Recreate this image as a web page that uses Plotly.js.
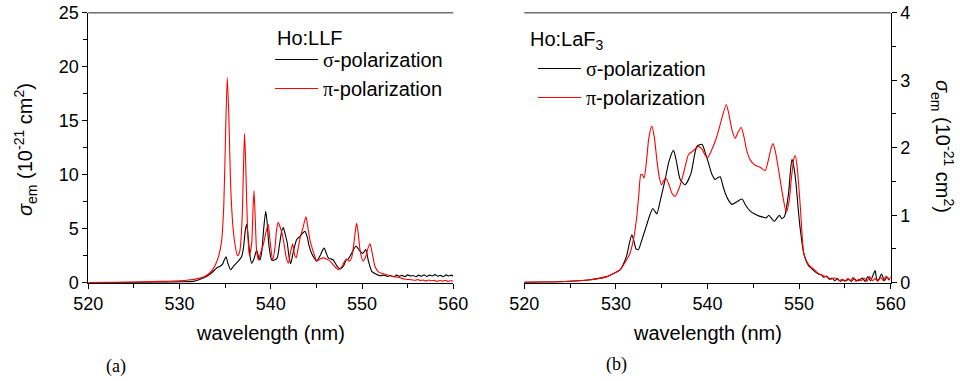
<!DOCTYPE html>
<html>
<head>
<meta charset="utf-8">
<script src="https://cdn.plot.ly/plotly-3.0.1.min.js"></script>
<style>html,body{margin:0;padding:0;background:#fff;}#chart{width:960px;height:381px;}</style>
</head>
<body>
<div id="chart"></div>
<script>
// ---- Ho:LLF, sigma-polarization (black) ----
const llfSigmaWl = [520,524,527,530,531.5,532.2,533,533.5,534.07,534.4,534.7,534.9,535.09,535.3,535.6,535.9,536.2,536.44,536.8,537,537.2,537.36,537.5,537.7,537.9,538.15,538.45,538.65,538.8,539,539.2,539.44,539.6,539.8,540.1,540.4,540.7,540.95,541.2,541.37,541.55,541.8,542,542.18,542.5,542.84,543.2,543.5,543.75,544,544.2,544.48,544.75,545.03,545.4,545.83,546.1,546.3,546.6,546.85,547.2,547.58,548,548.25,548.5,548.9,549.34,549.7,550.07,550.4,550.7,551.06,551.5,551.98,552.4,552.8,553.1,553.5,553.8,554.1,554.4,554.7,555,555.3,555.6,555.9,556.2,556.5,556.8,557.1,557.4,557.7,558,558.3,558.6,558.9,559.2,559.5,559.8,560];
const llfSigmaVal = [0.01,0.02,0.04,0.08,0.12,0.3,0.6,0.9,1.36,1.5,1.7,2.1,2.4,1.8,1.2,1.5,1.8,2.0,2.4,3.2,4.8,5.4,4.4,2.6,1.8,2.2,3.0,2.4,2.1,2.8,4.8,6.6,5.6,3.4,2.1,2.1,2.3,3.5,4.8,5.1,4.6,3.7,2.4,1.76,3.0,4.0,4.3,4.6,4.75,4.2,3.4,2.7,2.3,2.0,2.5,3.2,2.7,2.3,2.2,2.1,1.6,1.27,1.6,2.1,2.2,2.8,3.4,3.0,2.7,3.06,2.0,1.05,0.8,0.65,0.7,0.58,0.66,0.55,0.7,0.6,0.68,0.56,0.72,0.62,0.66,0.55,0.7,0.6,0.74,0.58,0.7,0.62,0.75,0.6,0.68,0.55,0.72,0.62,0.7,0.6];

// ---- Ho:LLF, pi-polarization (red) ----
const llfPiWl = [520,522,524,526,528,530,531,532,532.8,533.3,533.7,534,534.3,534.6,534.85,535.05,535.23,535.4,535.6,535.85,536.1,536.35,536.6,536.85,537,537.12,537.25,537.45,537.65,537.9,538.05,538.16,538.3,538.45,538.65,538.9,539.2,539.5,539.72,539.9,540.2,540.45,540.65,540.82,541,541.25,541.45,541.7,541.92,542.15,542.4,542.6,542.78,543,543.25,543.5,543.7,543.86,544.05,544.3,544.5,544.8,545.05,545.4,545.76,546.1,546.5,546.9,547.4,547.8,548.1,548.32,548.6,548.85,549.1,549.3,549.41,549.55,549.8,550.1,550.4,550.65,550.87,551.1,551.42,551.8,552.2,552.7,553.3,554.2,554.6,555,555.4,555.8,556.1,556.4,556.7,557,557.3,557.6,557.9,558.2,558.5,558.8,559.1,559.4,559.7,560];
const llfPiVal = [0.02,0.03,0.05,0.08,0.12,0.18,0.25,0.38,0.6,0.9,1.3,1.8,2.5,3.8,7.2,14,19.0,15.5,9,5.2,3.4,2.5,2.9,5.8,10.5,13.8,11,5,2.5,3.6,6.8,8.5,5.8,2.9,2.1,2.8,3.6,4.8,5.4,4.0,2.1,3.2,5.0,5.6,5.2,4.5,3.6,2.3,1.8,2.8,3.6,2.6,2.3,3.2,4.3,5.0,5.7,6.1,5.2,3.9,3.3,2.5,2.0,2.2,2.3,2.2,2.0,1.6,1.2,1.5,2.0,2.2,2.0,2.3,3.6,5.0,5.5,4.8,2.9,2.0,2.4,3.2,3.6,2.8,1.5,1.0,0.85,0.74,0.6,0.45,0.35,0.3,0.28,0.22,0.3,0.2,0.25,0.15,0.25,0.18,0.22,0.12,0.2,0.15,0.22,0.12,0.18,0.15];

// ---- Ho:LaF3, sigma-polarization (black) ----
const lafSigmaWl = [520,522,524,526,527,528,529,529.8,530.46,530.9,531.19,531.5,531.74,532,532.2,532.46,532.8,533.3,533.7,534.03,534.3,534.47,534.9,535.38,535.8,536.29,536.6,537.02,537.56,538.2,538.84,539.39,539.7,540.11,540.5,540.84,541.15,541.39,541.65,541.93,542.3,542.66,543.2,543.76,544.2,544.67,545.1,545.57,546.1,546.4,546.7,547,547.3,547.6,547.85,548.1,548.4,548.85,549.05,549.22,549.45,549.69,549.9,550.13,550.5,551,551.3,551.6,552.1,552.4,552.7,553,553.3,553.6,553.9,554.2,554.5,554.8,555.1,555.4,555.7,556,556.3,556.6,556.9,557.2,557.5,557.8,558.1,558.3,558.5,558.7,559,559.3,559.6,559.9];
const lafSigmaVal = [0.005,0.01,0.015,0.03,0.04,0.06,0.09,0.14,0.19,0.3,0.41,0.6,0.71,0.6,0.5,0.49,0.62,0.83,1.0,1.1,1.05,1.02,1.25,1.53,1.8,1.96,1.8,1.53,1.45,1.62,2.02,2.05,1.95,1.77,1.6,1.53,1.56,1.57,1.45,1.33,1.22,1.16,1.2,1.24,1.14,1.06,1.02,0.99,0.97,0.96,1.0,0.95,0.91,0.96,1.0,0.95,0.98,1.33,1.65,1.83,1.7,1.43,1.1,0.79,0.44,0.26,0.22,0.18,0.13,0.12,0.08,0.1,0.05,0.07,0.03,0.06,0.02,0.04,0.03,0.05,0.02,0.06,0.03,0.04,0.07,0.02,0.09,0.03,0.12,0.18,0.04,0.05,0.13,0.03,0.08,0.04];

// ---- Ho:LaF3, pi-polarization (red) ----
const lafPiWl = [520,522,524,526,527,528,529,529.8,530.46,531,531.55,532,532.28,532.5,532.72,532.9,533.08,533.3,533.6,533.92,534.2,534.47,534.75,535,535.25,535.45,535.8,536.1,536.47,536.9,537.38,537.7,537.93,538.4,539.02,539.4,539.7,540,540.5,541.03,541.5,542.04,542.3,542.7,543.03,543.3,543.68,544,544.3,544.67,545.2,545.76,546.3,546.7,547,547.15,547.4,547.76,548.2,548.6,548.9,549.2,549.45,549.59,549.8,550.13,550.5,550.8,551.22,551.6,552,552.3,552.7,553.1,553.5,553.8,554.14,554.4,554.7,555,555.3,555.6,555.9,556.2,556.5,556.8,557.1,557.4,557.7,558,558.3,558.6,558.9,559.2,559.5,559.8,560];
const lafPiVal = [0.005,0.01,0.015,0.03,0.04,0.06,0.09,0.14,0.19,0.3,0.44,0.7,0.98,1.3,1.6,1.6,1.55,1.75,2.15,2.32,2.15,1.82,1.55,1.45,1.52,1.55,1.45,1.33,1.28,1.4,1.62,1.8,1.9,1.95,2.02,1.98,1.9,1.85,1.98,2.17,2.4,2.64,2.52,2.25,2.14,2.22,2.3,2.15,1.95,1.82,1.74,1.71,1.66,1.85,2.02,2.06,1.95,1.67,1.3,1.04,1.2,1.6,1.85,1.88,1.7,1.13,0.44,0.32,0.24,0.2,0.15,0.12,0.1,0.08,0.05,0.07,0.06,0.03,0.05,0.02,0.06,0.03,0.08,0.02,0.05,0.03,0.07,0.02,0.09,0.03,0.06,0.02,0.08,0.03,0.1,0.04,0.09];

const seriesNames = ['σ-polarization', 'π-polarization'];
const panelLabels = ['Ho:LLF', 'Ho:LaF<sub>3</sub>'];
const xTitle = 'wavelength (nm)';
const yTitle = '<i>σ</i><sub>em</sub> (10<sup>-21</sup> cm<sup>2</sup>)';

const SANS = 'Liberation Sans, Arial, sans-serif';
const SERIF = 'Liberation Serif, Times New Roman, serif';
const legName = n => '<span style="font-family:' + "'Liberation Serif'" + '">' + n.charAt(0) + '</span>' + n.slice(1);

const lineStyle = c => ({color: c, width: 1.1, shape: 'spline', smoothing: 0.6});

const traces = [
  {x: llfSigmaWl, y: llfSigmaVal, xaxis: 'x', yaxis: 'y', mode: 'lines', name: legName(seriesNames[0]), line: lineStyle('#000000'), legend: 'legend'},
  {x: llfPiWl, y: llfPiVal, xaxis: 'x', yaxis: 'y', mode: 'lines', name: legName(seriesNames[1]), line: lineStyle('#ff0000'), legend: 'legend'},
  {x: lafSigmaWl, y: lafSigmaVal, xaxis: 'x2', yaxis: 'y2', mode: 'lines', name: legName(seriesNames[0]), line: lineStyle('#000000'), legend: 'legend2'},
  {x: lafPiWl, y: lafPiVal, xaxis: 'x2', yaxis: 'y2', mode: 'lines', name: legName(seriesNames[1]), line: lineStyle('#ff0000'), legend: 'legend2'}
];

const W = 960, H = 381;
const px = v => v / W, py = v => 1 - v / H;
const yDom = [py(282.7), py(12.7)];

const xBase = (dom, anchor) => ({
  domain: dom, anchor: anchor, range: [520, 560], showline: true, linecolor: '#000', linewidth: 1,
  ticks: 'outside', ticklen: 5, tickwidth: 1, tickcolor: '#000', tick0: 520, dtick: 10,
  minor: {dtick: 5, ticks: 'outside', ticklen: 4, tickcolor: '#000'},
  showgrid: false, zeroline: false, layer: 'below traces',
  tickfont: {family: SANS, size: 18, color: '#000'}, fixedrange: true
});

const layout = {
  width: W, height: H, margin: {l: 0, r: 0, t: 0, b: 0},
  paper_bgcolor: '#fff', plot_bgcolor: '#fff', showlegend: true,
  font: {family: SANS, color: '#000'},
  xaxis: xBase([px(88.3), px(453.3)], 'y'),
  xaxis2: xBase([px(524.3), px(890.7)], 'y2'),
  yaxis: {domain: yDom, anchor: 'x', range: [0, 25], showline: true, linecolor: '#000', linewidth: 1,
    ticks: 'outside', ticklen: 5, tickcolor: '#000', dtick: 5, tick0: 0,
    minor: {dtick: 2.5, ticks: 'outside', ticklen: 4, tickcolor: '#000'},
    showgrid: false, zeroline: false, layer: 'below traces',
    tickfont: {family: SANS, size: 18, color: '#000'}, fixedrange: true},
  yaxis3: {overlaying: 'y', anchor: 'x', side: 'right', range: [0, 25], showline: true, linecolor: '#000', linewidth: 1,
    ticks: 'inside', ticklen: 3, tickcolor: '#000', dtick: 2.5, tick0: 0, showticklabels: false,
    showgrid: false, zeroline: false, fixedrange: true},
  yaxis2: {domain: yDom, anchor: 'x2', side: 'right', range: [0, 4], showline: true, linecolor: '#000', linewidth: 1,
    ticks: 'outside', ticklen: 5, tickcolor: '#000', dtick: 1, tick0: 0,
    minor: {dtick: 0.5, ticks: 'outside', ticklen: 4, tickcolor: '#000'},
    showgrid: false, zeroline: false, layer: 'below traces',
    tickfont: {family: SANS, size: 18, color: '#000'}, fixedrange: true},
  yaxis4: {overlaying: 'y2', anchor: 'x2', side: 'left', range: [0, 4], showline: true, linecolor: '#000', linewidth: 1,
    ticks: 'inside', ticklen: 3, tickcolor: '#000', dtick: 0.5, tick0: 0, showticklabels: false,
    showgrid: false, zeroline: false, fixedrange: true},
  legend: {x: px(270), y: py(40), xanchor: 'left', yanchor: 'top', bgcolor: 'rgba(0,0,0,0)',
    font: {family: SANS, size: 20, color: '#000'}, itemwidth: 43, tracegroupgap: 0},
  legend2: {x: px(533), y: py(49), xanchor: 'left', yanchor: 'top', bgcolor: 'rgba(0,0,0,0)',
    font: {family: SANS, size: 20, color: '#000'}, itemwidth: 43, tracegroupgap: 0},
  shapes: [
    {type: 'line', xref: 'x domain', yref: 'y domain', x0: 0, x1: 1, y0: 1, y1: 1, line: {color: '#6e6e6e', width: 1.6}},
    {type: 'line', xref: 'x2 domain', yref: 'y2 domain', x0: 0, x1: 1, y0: 1, y1: 1, line: {color: '#6e6e6e', width: 1.6}}
  ],
  annotations: [
    {text: panelLabels[0], xref: 'paper', yref: 'paper', x: px(275), y: py(38), xanchor: 'left', yanchor: 'middle', showarrow: false, font: {family: SANS, size: 20, color: '#000'}},
    {text: panelLabels[1], xref: 'paper', yref: 'paper', x: px(528), y: py(40), xanchor: 'left', yanchor: 'middle', showarrow: false, font: {family: SANS, size: 20, color: '#000'}},
    {text: xTitle, xref: 'x domain', yref: 'paper', x: 0.5, y: py(333), xanchor: 'center', yanchor: 'middle', showarrow: false, font: {family: SANS, size: 20, color: '#000'}},
    {text: xTitle, xref: 'x2 domain', yref: 'paper', x: 0.5, y: py(333), xanchor: 'center', yanchor: 'middle', showarrow: false, font: {family: SANS, size: 20, color: '#000'}},
    {text: yTitle, xref: 'paper', yref: 'paper', x: px(25), y: py(150), xanchor: 'center', yanchor: 'middle', textangle: -90, showarrow: false, font: {family: SANS, size: 20, color: '#000'}},
    {text: yTitle, xref: 'paper', yref: 'paper', x: px(943), y: py(146), xanchor: 'center', yanchor: 'middle', textangle: 90, showarrow: false, font: {family: SANS, size: 20, color: '#000'}},
    {text: '(a)', xref: 'paper', yref: 'paper', x: px(116), y: py(366), xanchor: 'center', yanchor: 'middle', showarrow: false, font: {family: SERIF, size: 18, color: '#000'}},
    {text: '(b)', xref: 'paper', yref: 'paper', x: px(616), y: py(364), xanchor: 'center', yanchor: 'middle', showarrow: false, font: {family: SERIF, size: 18, color: '#000'}}
  ]
};

Plotly.newPlot('chart', traces, layout, {displayModeBar: false, staticPlot: true});
</script>
</body>
</html>
